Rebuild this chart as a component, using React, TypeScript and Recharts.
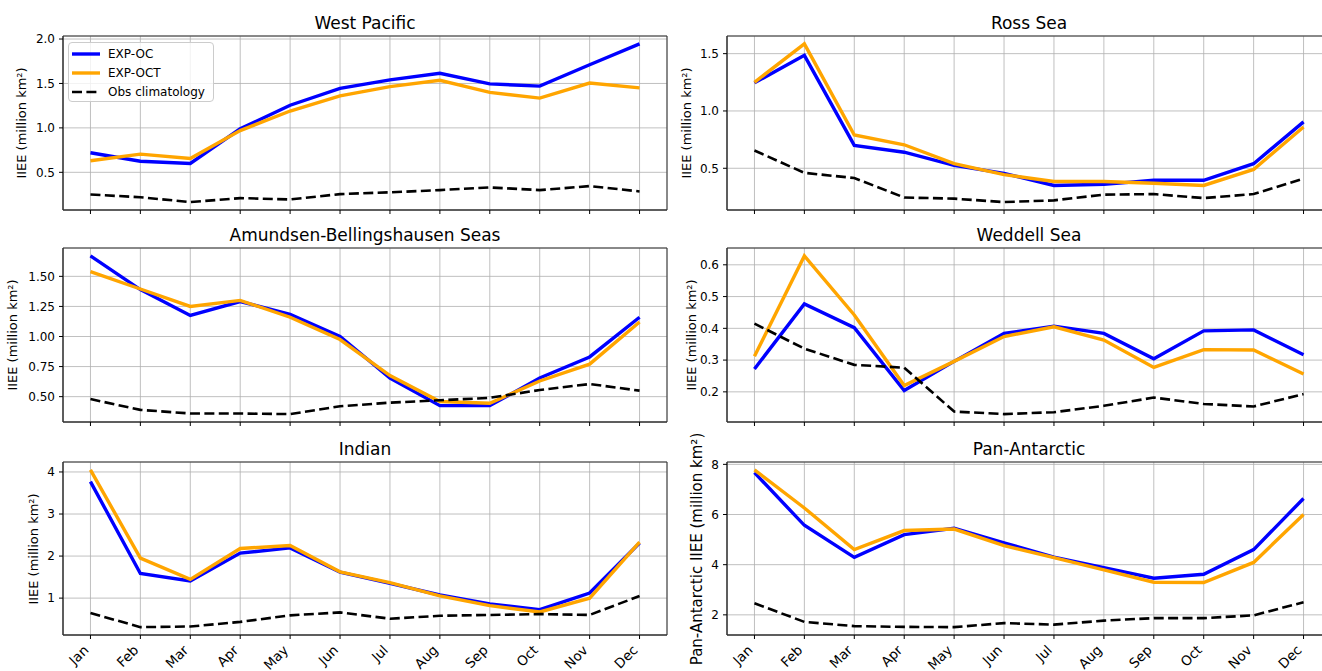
import { CartesianGrid, Legend, Line, LineChart, ReferenceArea, XAxis, YAxis } from 'recharts';

const months = ['Jan', 'Feb', 'Mar', 'Apr', 'May', 'Jun', 'Jul', 'Aug', 'Sep', 'Oct', 'Nov', 'Dec'];

// West Pacific
const wpOc = [0.72, 0.625, 0.6, 0.99, 1.255, 1.445, 1.54, 1.615, 1.495, 1.47, 1.71, 1.945];
const wpOct = [0.63, 0.705, 0.655, 0.97, 1.19, 1.36, 1.465, 1.535, 1.4, 1.335, 1.505, 1.45];
const wpObs = [0.25, 0.22, 0.165, 0.21, 0.195, 0.255, 0.275, 0.3, 0.33, 0.3, 0.345, 0.285];

// Ross Sea
const rsOc = [1.245, 1.485, 0.7, 0.64, 0.525, 0.455, 0.35, 0.36, 0.395, 0.395, 0.54, 0.905];
const rsOct = [1.25, 1.585, 0.79, 0.705, 0.54, 0.445, 0.385, 0.385, 0.37, 0.35, 0.49, 0.86];
const rsObs = [0.655, 0.46, 0.415, 0.245, 0.235, 0.205, 0.22, 0.27, 0.275, 0.24, 0.275, 0.41];

// Amundsen-Bellingshausen Seas
const abOc = [1.67, 1.39, 1.175, 1.29, 1.185, 1.0, 0.655, 0.425, 0.425, 0.655, 0.83, 1.16];
const abOct = [1.54, 1.395, 1.25, 1.3, 1.16, 0.975, 0.675, 0.46, 0.445, 0.63, 0.77, 1.12];
const abObs = [0.48, 0.39, 0.36, 0.36, 0.355, 0.42, 0.45, 0.47, 0.49, 0.555, 0.605, 0.55];

// Weddell Sea
const wdOc = [0.272, 0.477, 0.402, 0.204, 0.296, 0.384, 0.407, 0.384, 0.304, 0.392, 0.395, 0.317];
const wdOct = [0.312, 0.628, 0.442, 0.22, 0.296, 0.374, 0.405, 0.363, 0.277, 0.333, 0.332, 0.256];
const wdObs = [0.415, 0.336, 0.285, 0.276, 0.138, 0.13, 0.136, 0.156, 0.182, 0.162, 0.154, 0.193];

// Indian
const inOc = [3.77, 1.585, 1.41, 2.07, 2.195, 1.615, 1.35, 1.075, 0.86, 0.725, 1.12, 2.31];
const inOct = [4.05, 1.95, 1.445, 2.18, 2.25, 1.625, 1.37, 1.055, 0.82, 0.67, 1.0, 2.33];
const inObs = [0.645, 0.31, 0.325, 0.435, 0.59, 0.66, 0.51, 0.58, 0.6, 0.62, 0.6, 1.05];

// Pan-Antarctic
const paOc = [7.67, 5.57, 4.29, 5.2, 5.45, 4.87, 4.3, 3.88, 3.46, 3.62, 4.6, 6.64];
const paOct = [7.78, 6.26, 4.6, 5.36, 5.42, 4.76, 4.28, 3.79, 3.3, 3.29, 4.09, 6.0];
const paObs = [2.46, 1.72, 1.55, 1.52, 1.51, 1.67, 1.61, 1.77, 1.87, 1.87, 1.98, 2.5];

const seriesInfo = [
  { key: 'oc', name: 'EXP-OC', color: '#0000ff', width: 3.4, dash: undefined as string | undefined },
  { key: 'oct', name: 'EXP-OCT', color: '#ffa500', width: 3.4, dash: undefined as string | undefined },
  { key: 'obs', name: 'Obs climatology', color: '#000000', width: 2.6, dash: '10 4.4' },
];

const YW = 60;
const PLOT_W = 604;

type Panel = {
  title: string;
  oc: number[];
  oct: number[];
  obs: number[];
  ticks: number[];
  digits: number;
  left: number;
  top: number;
  bottom: number;
  labelX: number;
  label: string;
  labelSize: number;
  months: boolean;
  legend: boolean;
};

const LABEL = 'IIEE (million km²)';

const panels: Panel[] = [
  { title: 'West Pacific', oc: wpOc, oct: wpOct, obs: wpObs, ticks: [0.5, 1.0, 1.5, 2.0], digits: 1, left: 63, top: 36, bottom: 210, labelX: 22, label: LABEL, labelSize: 13, months: false, legend: true },
  { title: 'Ross Sea', oc: rsOc, oct: rsOct, obs: rsObs, ticks: [0.5, 1.0, 1.5], digits: 1, left: 727, top: 36, bottom: 210, labelX: 687, label: LABEL, labelSize: 13, months: false, legend: false },
  { title: 'Amundsen-Bellingshausen Seas', oc: abOc, oct: abOct, obs: abObs, ticks: [0.5, 0.75, 1.0, 1.25, 1.5], digits: 2, left: 63, top: 248, bottom: 422, labelX: 13, label: LABEL, labelSize: 13, months: false, legend: false },
  { title: 'Weddell Sea', oc: wdOc, oct: wdOct, obs: wdObs, ticks: [0.2, 0.3, 0.4, 0.5, 0.6], digits: 1, left: 727, top: 248, bottom: 422, labelX: 692, label: LABEL, labelSize: 13, months: false, legend: false },
  { title: 'Indian', oc: inOc, oct: inOct, obs: inObs, ticks: [1, 2, 3, 4], digits: 0, left: 63, top: 462, bottom: 635, labelX: 34, label: LABEL, labelSize: 13, months: true, legend: false },
  { title: 'Pan-Antarctic', oc: paOc, oct: paOct, obs: paObs, ticks: [2, 4, 6, 8], digits: 0, left: 727, top: 462, bottom: 635, labelX: 697, label: 'Pan-Antarctic IIEE (million km²)', labelSize: 15, months: true, legend: false },
];

function MonthTick({ x, y, payload }: any) {
  return (
    <g transform={`translate(${x - 1},${y + 10}) rotate(-45)`}>
      <text x={0} y={0} textAnchor="end" fontSize={13.5} fill="#000">
        {months[payload.value]}
      </text>
    </g>
  );
}

function LegendBox() {
  return (
    <div
      style={{
        boxSizing: 'border-box',
        width: 146,
        height: 60,
        background: 'rgba(255,255,255,0.8)',
        border: '1px solid #cccccc',
        borderRadius: 4,
        padding: '1px 4px 1px 3px',
        fontSize: 12,
        color: '#000',
      }}
    >
      {seriesInfo.map((s) => (
        <div key={s.key} style={{ display: 'flex', alignItems: 'center', height: 19 }}>
          <svg width={28} height={6}>
            <line x1={0} y1={3} x2={28} y2={3} stroke={s.color} strokeWidth={s.width} strokeDasharray={s.dash} />
          </svg>
          <span style={{ marginLeft: 8, whiteSpace: 'nowrap' }}>{s.name}</span>
        </div>
      ))}
    </div>
  );
}

function RegionChart({ p }: { p: Panel }) {
  const rows = months.map((_, i) => ({ m: i, oc: p.oc[i], oct: p.oct[i], obs: p.obs[i] }));
  const all = [...p.oc, ...p.oct, ...p.obs];
  const lo = Math.min(...all);
  const hi = Math.max(...all);
  const pad = (hi - lo) * 0.05;
  const yDomain = [lo - pad, hi + pad];
  const xh = p.months ? 40 : 8;
  const plotH = p.bottom - p.top;
  const chartLeft = p.left - YW;
  const chartTop = p.top - 5;

  return (
    <>
      <div
        style={{
          position: 'absolute',
          left: p.left,
          top: p.top - 23,
          width: PLOT_W,
          textAlign: 'center',
          fontSize: 17,
          lineHeight: '20px',
          whiteSpace: 'nowrap',
        }}
      >
        {p.title}
      </div>
      <div
        style={{
          position: 'absolute',
          left: p.labelX,
          top: (p.top + p.bottom) / 2,
          transform: 'translate(-50%, -50%) rotate(-90deg)',
          fontSize: p.labelSize,
          whiteSpace: 'nowrap',
          lineHeight: 1.2,
        }}
      >
        {p.label}
      </div>
      <div style={{ position: 'absolute', left: chartLeft, top: chartTop }}>
        <LineChart
          width={YW + PLOT_W + 5}
          height={5 + plotH + xh}
          data={rows}
          margin={{ top: 5, right: 5, bottom: 0, left: 0 }}
        >
          <CartesianGrid stroke="#b0b0b0" strokeWidth={0.8} />
          <XAxis
            dataKey="m"
            type="number"
            domain={[-0.55, 11.55]}
            ticks={[0, 1, 2, 3, 4, 5, 6, 7, 8, 9, 10, 11]}
            height={xh}
            stroke="#333"
            tickLine={{ stroke: '#000' }}
            tickSize={4}
            tickMargin={2}
            interval={0}
            tick={p.months ? <MonthTick /> : { fontSize: 1 }}
            tickFormatter={p.months ? undefined : () => ''}
          />
          <YAxis
            type="number"
            domain={yDomain}
            ticks={p.ticks}
            width={YW}
            stroke="#333"
            tickLine={{ stroke: '#000' }}
            tickSize={4}
            tickMargin={4}
            interval={0}
            tick={{ fontSize: 12, fill: '#000' }}
            tickFormatter={(v: number) => v.toFixed(p.digits)}
          />
          <ReferenceArea
            x1={-0.55}
            x2={11.55}
            y1={yDomain[0]}
            y2={yDomain[1]}
            fill="none"
            stroke="#333"
            strokeWidth={1}
            ifOverflow="visible"
          />
          {seriesInfo.map((s) => (
            <Line
              key={s.key}
              type="linear"
              dataKey={s.key}
              name={s.name}
              stroke={s.color}
              strokeWidth={s.width}
              strokeDasharray={s.dash}
              dot={false}
              activeDot={false}
              isAnimationActive={false}
            />
          ))}
          {p.legend && (
            <Legend
              layout="vertical"
              align="center"
              verticalAlign="middle"
              content={() => <LegendBox />}
              wrapperStyle={{ left: 68 - chartLeft, top: 42 - chartTop, width: 146, height: 60 }}
            />
          )}
        </LineChart>
      </div>
    </>
  );
}

export default function App() {
  return (
    <div
      style={{
        position: 'absolute',
        left: 0,
        top: 0,
        width: 1322,
        height: 671,
        overflow: 'hidden',
        background: '#fff',
        fontFamily: '"DejaVu Sans", sans-serif',
        color: '#000',
      }}
    >
      {panels.map((p) => (
        <RegionChart key={p.title} p={p} />
      ))}
    </div>
  );
}
